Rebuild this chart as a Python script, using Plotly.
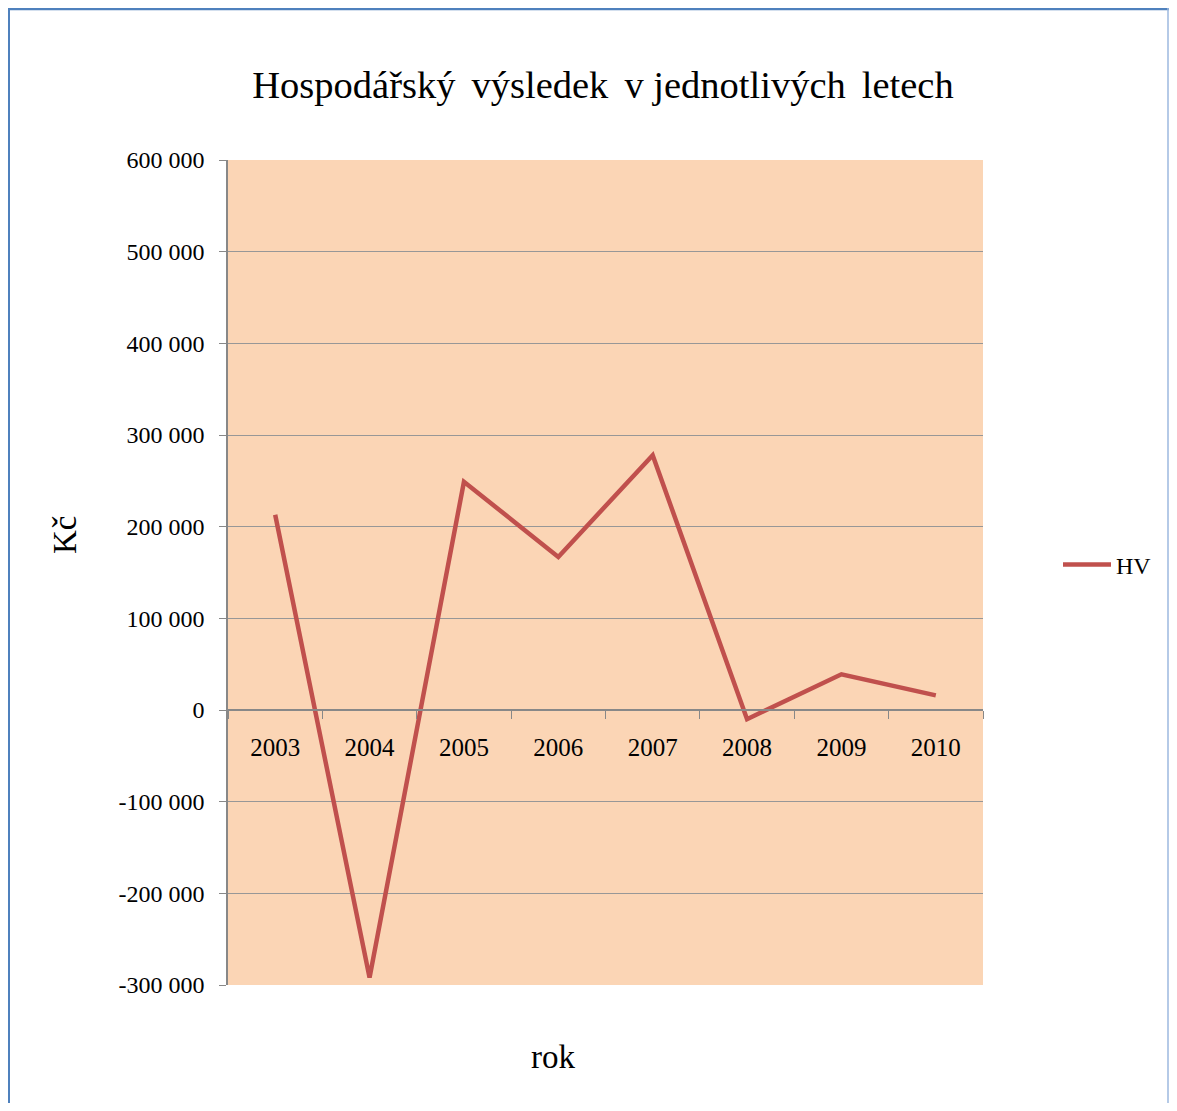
import plotly.graph_objects as go

years = ["2003", "2004", "2005", "2006", "2007", "2008", "2009", "2010"]
hv = [213000, -292000, 249000, 167000, 278000, -10000, 39000, 16000]
y_tickvals = [600000, 500000, 400000, 300000, 200000, 100000, 0, -100000, -200000, -300000]
y_ticktext = ["600 000", "500 000", "400 000", "300 000", "200 000", "100 000", "0",
              "-100 000", "-200 000", "-300 000"]

# page body has an 8px margin; figure is positioned at (8, 8)
OFF = 8
W, H = 1177 - 2 * OFF, 1111 - 2 * OFF
L, R, T, B = 228 - OFF, 983 - OFF, 160 - OFF, 985 - OFF
pw, ph = R - L, B - T

def px(x):  # page pixel -> paper
    return (x - OFF - L) / pw

def py(y):
    return (B - (y - OFF)) / ph

FONT = "Liberation Serif, Times New Roman, serif"
GRID = "#979797"

fig = go.Figure()
fig.add_trace(go.Scatter(
    x=years, y=hv, mode="lines", name="HV",
    line=dict(color="#C0504D", width=4.5),
))

fig.update_layout(
    width=W, height=H,
    margin=dict(l=L, r=W - R, t=T, b=H - B, autoexpand=False),
    paper_bgcolor="white",
    plot_bgcolor="#FBD5B5",
    font=dict(family=FONT, color="black", size=22),
    title=dict(text="Hospodářský \u2006výsledek \u2006v jednotlivých \u2006letech",
               x=(603 - OFF) / W, xanchor="center", y=1 - (85 - OFF) / H, yanchor="middle",
               yref="container", font=dict(size=38.5, family=FONT)),
    showlegend=True,
    legend=dict(x=px(1058), y=py(565), xanchor="left", yanchor="middle",
                font=dict(size=24, family=FONT), bgcolor="rgba(0,0,0,0)",
                itemwidth=48),
    xaxis=dict(type="category", range=[-0.5, 7.5], anchor="free", position=1 / 3,
               showline=True, linecolor="#888888", linewidth=1.5,
               ticks="outside", ticklen=8, tickcolor="#888888", tickson="boundaries",
               showgrid=False, tickfont=dict(size=25, family=FONT),
               ticklabelstandoff=15, fixedrange=True),
    yaxis=dict(range=[-300000, 600000], tickvals=y_tickvals, ticktext=y_ticktext,
               showline=True, linecolor="#888888", linewidth=1.5,
               ticks="outside", ticklen=7, tickcolor="#888888",
               showgrid=True, gridcolor=GRID, gridwidth=1.3, zeroline=False,
               tickfont=dict(size=24, family=FONT), ticklabelstandoff=10,
               fixedrange=True),
    annotations=[
        dict(text="Kč", x=px(65), y=py(535), xref="paper", yref="paper",
             showarrow=False, textangle=-90, font=dict(size=33, family=FONT),
             xanchor="center", yanchor="middle"),
        dict(text="rok", x=px(553), y=py(1057), xref="paper", yref="paper",
             showarrow=False, font=dict(size=33, family=FONT),
             xanchor="center", yanchor="middle"),
    ],
    shapes=[
        dict(type="line", xref="paper", yref="paper", x0=px(8), x1=px(1169),
             y0=py(9), y1=py(9), line=dict(color="#4F81BD", width=2.5)),
        dict(type="line", xref="paper", yref="paper", x0=px(9), x1=px(9),
             y0=py(8), y1=py(1125), line=dict(color="#4F81BD", width=2)),
        dict(type="line", xref="paper", yref="paper", x0=px(1168), x1=px(1168),
             y0=py(8), y1=py(1125), line=dict(color="#9DB9DF", width=1.5)),
    ],
)

fig.write_html("out.html")
